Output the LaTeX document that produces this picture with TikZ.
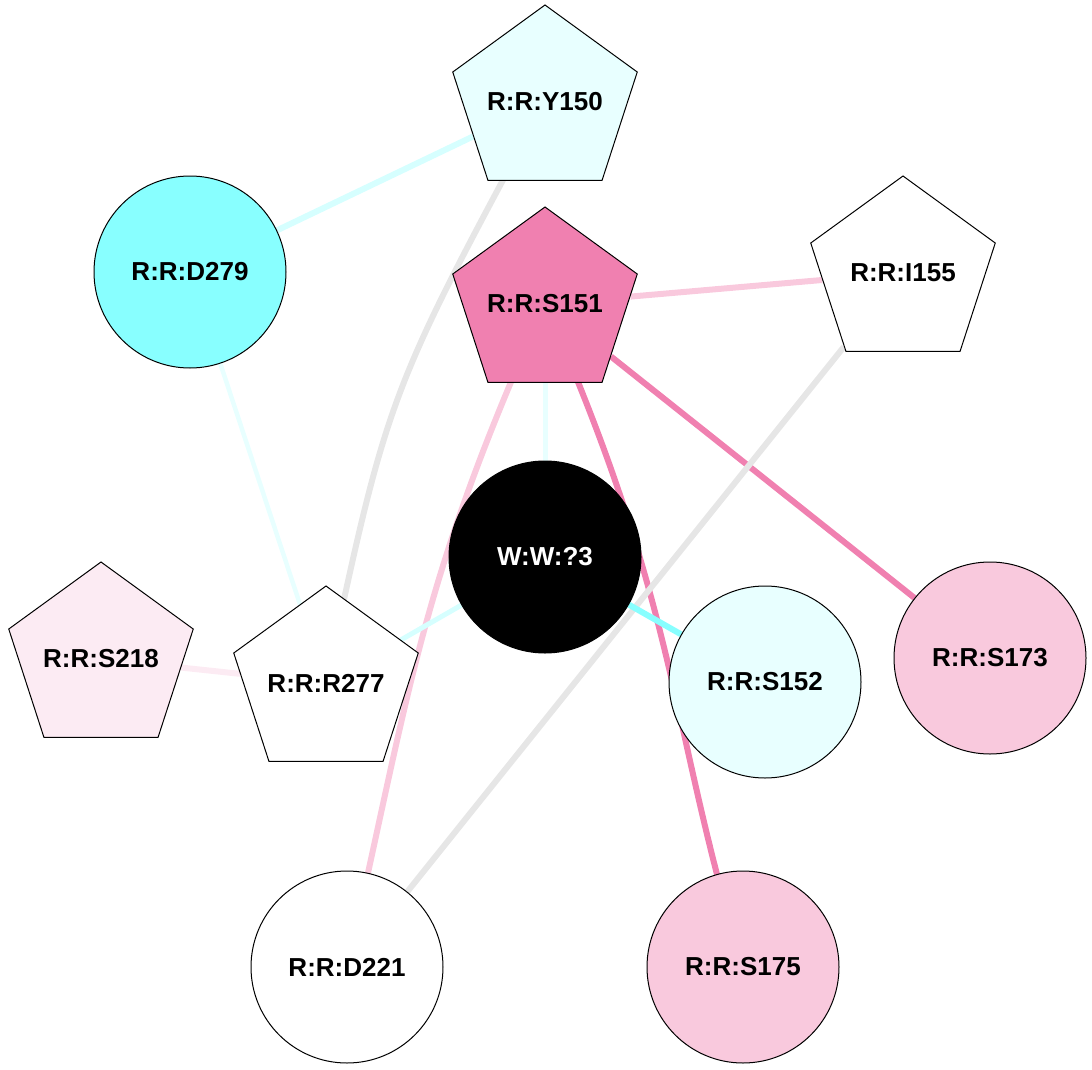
\documentclass[tikz,border=0pt]{standalone}
\usepackage{fontspec}
\setmainfont{Liberation Sans}
\usetikzlibrary{shapes.geometric}

\definecolor{pinkA}{RGB}{240,128,176}
\definecolor{pinkB}{RGB}{249,201,221}
\definecolor{pinkC}{RGB}{252,235,243}
\definecolor{cyanA}{RGB}{136,255,255}
\definecolor{cyanB}{RGB}{232,255,255}
\definecolor{cyanC}{RGB}{214,255,255}
\definecolor{greyA}{RGB}{230,230,230}

\pgfdeclarelayer{bg}
\pgfsetlayers{bg,main}

\newcommand{\reslabel}[1]{\makebox[0pt]{#1}}

\tikzset{
	res/.style={draw=black, line width=1pt, font=\bfseries\fontsize{26}{26}\selectfont, inner sep=0pt},
	pent/.style={res, regular polygon, regular polygon sides=5, minimum size=194pt},
	ball/.style={res, circle, minimum size=192pt},
	link/.style={line width=6pt}
}

\begin{document}
\begin{tikzpicture}[x=1pt, y=-1pt]

	\useasboundingbox (0, 0) rectangle (1092, 1070);

	% residues
	\node[pent, fill=cyanB] (y150) at (545, 102) {\reslabel{R:R:Y150}};
	\node[pent, fill=pinkA] (s151) at (545, 304) {\reslabel{R:R:S151}};
	\node[pent, fill=white] (i155) at (903, 273) {\reslabel{R:R:I155}};
	\node[ball, fill=cyanA] (d279) at (190, 272) {R:R:D279};
	\node[ball, fill=black, text=white] (w3) at (545, 557) {W:W:?3};
	\node[pent, fill=pinkC] (s218) at (101, 659) {\reslabel{R:R:S218}};
	\node[pent, fill=white] (r277) at (326, 683) {\reslabel{R:R:R277}};
	\node[ball, fill=cyanB] (s152) at (765, 682) {R:R:S152};
	\node[ball, fill=pinkB] (s173) at (990, 658) {R:R:S173};
	\node[ball, fill=white] (d221) at (347, 967) {R:R:D221};
	\node[ball, fill=pinkB] (s175) at (743, 967) {R:R:S175};

	% contacts
	\begin{pgfonlayer}{bg}
		\draw[link, cyanC] (d279) -- (y150);
		\draw[link, cyanB, line width=4.5pt] (d279) -- (r277);
		\draw[link, greyA] (y150.center) .. controls (388, 393) .. (r277.center);
		\draw[link, pinkB] (s151) -- (i155);
		\draw[link, pinkA] (s151) -- (s173);
		\draw[link, pinkA] (s151.center) .. controls (680, 610) and (668, 720) .. (s175.center);
		\draw[link, pinkB] (s151.center) .. controls (419, 584) and (411, 687) .. (d221.center);
		\draw[link, cyanB, line width=5pt] (s151) -- (w3);
		\draw[link, greyA] (i155) -- (d221);
		\draw[link, cyanC, line width=5pt] (w3) -- (r277);
		\draw[link, cyanA] (w3) -- (s152);
		\draw[link, pinkC] (s218) -- (r277);
	\end{pgfonlayer}

\end{tikzpicture}
\end{document}
